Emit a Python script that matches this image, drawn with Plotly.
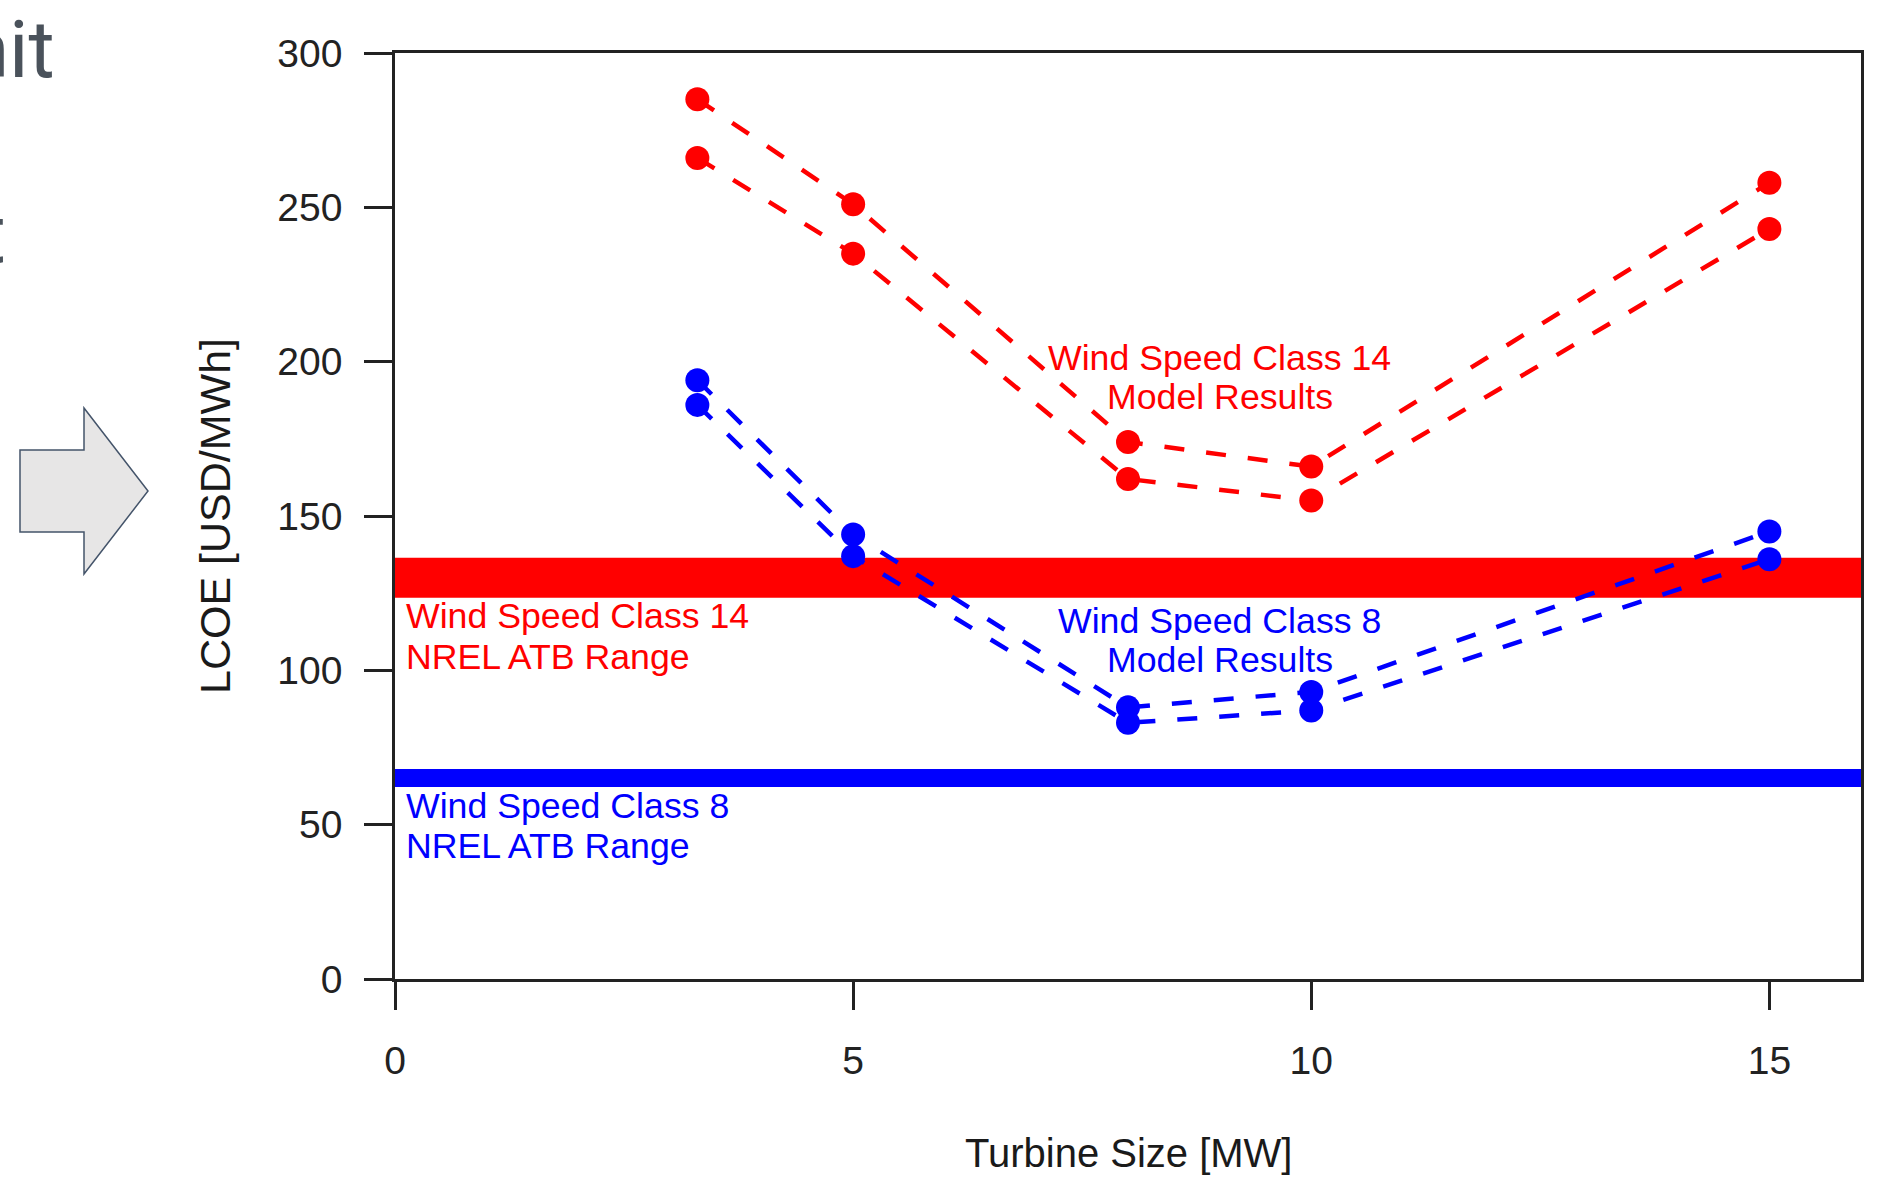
import plotly.graph_objects as go

# ---- data ----
turbine_size = [3.3, 5, 8, 10, 15]
class14_high = [285, 251, 174, 166, 258]
class14_low = [266, 235, 162, 155, 243]
class8_high = [194, 144, 88, 93, 145]
class8_low = [186, 137, 83, 87, 136]
atb14_range = [123.5, 136.5]
atb8_range = [62.2, 68.0]
x_range = [0, 16]
y_range = [0, 300]
x_ticks = [0, 5, 10, 15]
y_ticks = [0, 50, 100, 150, 200, 250, 300]

# label lines: (text, x, y)
nrel14_lines = [("Wind Speed Class 14", 0.1, 117.7), ("NREL ATB Range", 0.1, 104.4)]
nrel8_lines = [("Wind Speed Class 8", 0.1, 56.2), ("NREL ATB Range", 0.1, 43.0)]
model14_lines = [("Wind Speed Class 14", 9.0, 201.3), ("Model Results", 9.0, 188.4)]
model8_lines = [("Wind Speed Class 8", 9.0, 116.1), ("Model Results", 9.0, 103.3)]

RED = "#ff0000"
BLUE = "#0000ff"
FONT = "Liberation Sans, Arial, Helvetica, sans-serif"

W, H = 1882, 1177
ML, MR, MT, MB = 395, 21, 53, 198
PW = W - ML - MR
PH = H - MT - MB


def px_x(px):
    return (px - ML) / PW


def px_y(py):
    return (H - MB - py) / PH


fig = go.Figure()

# NREL ATB bands
for rng, col in [(atb14_range, RED), (atb8_range, BLUE)]:
    fig.add_trace(go.Scatter(
        x=[x_range[0], x_range[1], x_range[1], x_range[0]],
        y=[rng[0], rng[0], rng[1], rng[1]],
        fill="toself", fillcolor=col, mode="lines",
        line=dict(width=0, color=col), hoverinfo="skip", showlegend=False))

# model results
for ys, col in [(class14_high, RED), (class14_low, RED),
                (class8_high, BLUE), (class8_low, BLUE)]:
    fig.add_trace(go.Scatter(
        x=turbine_size, y=ys, mode="lines+markers",
        line=dict(color=col, width=4.5, dash="20px,22px"),
        marker=dict(color=col, size=24, line=dict(width=0)),
        showlegend=False))

for lines, col, anchor in [(nrel14_lines, RED, "left"), (nrel8_lines, BLUE, "left"),
                           (model14_lines, RED, "center"), (model8_lines, BLUE, "center")]:
    for txt, xv, yv in lines:
        fig.add_annotation(x=xv, y=yv, xref="x", yref="y", text=txt, showarrow=False,
                           xanchor=anchor, yanchor="middle",
                           font=dict(color=col, size=35.7, family=FONT))

# axis titles
fig.add_annotation(x=px_x(215), y=px_y(516), xref="paper", yref="paper", text="LCOE [USD/MWh]",
                   textangle=-90, xanchor="center", yanchor="middle", showarrow=False,
                   font=dict(color="#1a1a1a", size=43, family=FONT))
fig.add_annotation(x=px_x(1128), y=px_y(1153), xref="paper", yref="paper", text="Turbine Size [MW]",
                   xanchor="center", yanchor="middle", showarrow=False, borderpad=0,
                   font=dict(color="#1a1a1a", size=40, family=FONT))

# slide text fragments at left edge
fig.add_annotation(x=px_x(57), y=px_y(50), xref="paper", yref="paper", text="Unit",
                   xanchor="right", yanchor="middle", showarrow=False,
                   font=dict(color="#4a525b", size=80, family="Roboto"))
fig.add_annotation(x=px_x(8), y=px_y(234), xref="paper", yref="paper", text="t",
                   xanchor="right", yanchor="middle", showarrow=False,
                   font=dict(color="#4a525b", size=82, family="Roboto"))

# block arrow
pts = [(20, 450), (84, 450), (84, 408), (148, 491), (84, 574), (84, 532), (20, 532)]
path = "M " + " L ".join(f"{px_x(a):.5f},{px_y(b):.5f}" for a, b in pts) + " Z"
fig.add_shape(type="path", xref="paper", yref="paper", path=path,
              fillcolor="#e7e6e6", line=dict(color="#44546a", width=1.5), layer="above")

axis_common = dict(showgrid=False, zeroline=False, showline=True, linecolor="#222222",
                   linewidth=2.5, mirror=True, ticks="outside", ticklen=28, tickwidth=2.5,
                   tickcolor="#222222", tickfont=dict(size=39, color="#222222", family=FONT))

fig.update_xaxes(range=x_range, tickvals=x_ticks, ticktext=[str(v) for v in x_ticks],
                 ticklabelstandoff=17, **axis_common)
fig.update_yaxes(range=y_range, tickvals=y_ticks, ticktext=[str(v) for v in y_ticks],
                 ticklabelstandoff=14, **axis_common)

fig.update_layout(width=W, height=H, autosize=False,
                  margin=dict(l=ML, r=MR, t=MT, b=MB, autoexpand=False),
                  paper_bgcolor="white", plot_bgcolor="white",
                  font=dict(family=FONT), showlegend=False)

fig.write_html("out.html", config={"displayModeBar": False},
               post_script="document.body.style.margin='0';")
